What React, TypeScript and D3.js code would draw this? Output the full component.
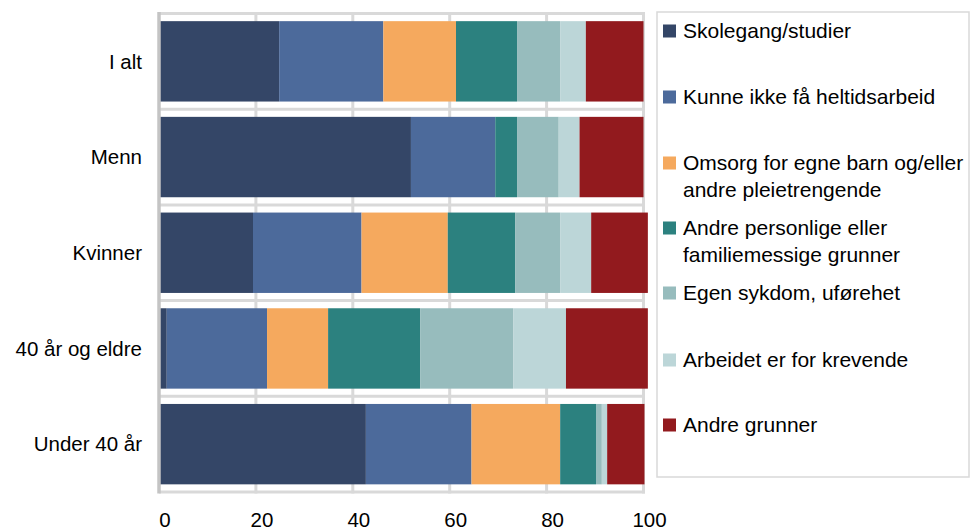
import React from "react";
import * as d3 from "d3";

const categories = ["I alt", "Menn", "Kvinner", "40 år og eldre", "Under 40 år"];
const seriesNames = [
  "Skolegang/studier",
  "Kunne ikke få heltidsarbeid",
  "Omsorg for egne barn og/eller andre pleietrengende",
  "Andre personlige eller familiemessige grunner",
  "Egen sykdom, uførehet",
  "Arbeidet er for krevende",
  "Andre grunner",
];
const legendLines = [
  ["Skolegang/studier"],
  ["Kunne ikke få heltidsarbeid"],
  ["Omsorg for egne barn og/eller", "andre pleietrengende"],
  ["Andre personlige eller", "familiemessige grunner"],
  ["Egen sykdom, uførehet"],
  ["Arbeidet er for krevende"],
  ["Andre grunner"],
];
const skolegang = [24.8, 52.0, 19.4, 1.6, 42.7];
const heltid = [21.5, 17.4, 22.4, 20.7, 21.8];
const omsorg = [15.0, 0, 17.8, 12.6, 18.3];
const personlige = [12.6, 4.5, 13.9, 19.0, 7.4];
const sykdom = [8.9, 8.6, 9.3, 19.2, 1.2];
const krevende = [5.3, 4.3, 6.4, 10.9, 1.1];
const andre = [11.9, 13.2, 11.7, 16.9, 7.7];
const seriesValues = [skolegang, heltid, omsorg, personlige, sykdom, krevende, andre];
const colors = ["#344667", "#4c6a9b", "#f5a95e", "#2c817f", "#97bcbd", "#bcd6d8", "#921a1e"];
const xTicks = [0, 20, 40, 60, 80, 100];

export default function App() {
  const width = 970;
  const height = 532;
  const x = d3.scaleLinear().domain([0, 100]).range([159, 643.5]);
  const y = d3.scaleBand().domain(categories).range([13.5, 492]).paddingInner(0.16).paddingOuter(0.08);
  const bandTop = 13.5;
  const bandLines = d3.range(categories.length + 1).map((i) => bandTop + i * ((492 - 13.5) / categories.length));

  const rows = categories.map((c, ci) => {
    let acc = 0;
    return seriesValues.map((vals, si) => {
      const x0 = acc;
      acc += vals[ci];
      return { c, si, name: seriesNames[si], x0, x1: acc };
    });
  });

  const font = "'Liberation Sans', Arial, sans-serif";
  const legendCenters = [31, 97, 163, 228, 293, 360, 425];

  return (
    <svg
      width={width}
      height={height}
      style={{ position: "absolute", left: 0, top: 0, background: "#fff" }}
      fontFamily={font}
    >
      {bandLines.map((yy, i) => (
        <line key={"h" + i} x1={159} x2={645} y1={yy} y2={yy} stroke="#d9d9d9" strokeWidth={3} />
      ))}
      {xTicks.slice(1).map((t) => (
        <line key={"v" + t} x1={x(t)} x2={x(t)} y1={12} y2={493.5} stroke="#d9d9d9" strokeWidth={3} />
      ))}
      {rows.map((segs) =>
        segs.map((s) =>
          s.x1 - s.x0 > 0 ? (
            <rect
              key={s.c + s.si}
              x={x(s.x0)}
              y={y(s.c)!}
              width={x(s.x1) - x(s.x0)}
              height={y.bandwidth()}
              fill={colors[s.si]}
            />
          ) : null
        )
      )}
      <line x1={159} x2={159} y1={12} y2={493.5} stroke="#c4c4c4" strokeWidth={3.5} />
      {categories.map((c) => (
        <text
          key={c}
          x={142}
          y={y(c)! + y.bandwidth() / 2}
          dy="0.35em"
          textAnchor="end"
          fontSize={20.5}
          fill="#000"
        >
          {c}
        </text>
      ))}
      {xTicks.map((t) => (
        <text key={"t" + t} x={x(t) + 6} y={527} textAnchor="middle" fontSize={20.5} fill="#000">
          {t}
        </text>
      ))}
      <rect x={657} y={12} width={312} height={465} fill="#fff" stroke="#d9d9d9" strokeWidth={1.5} />
      {legendLines.map((lines, i) => (
        <g key={"l" + i}>
          <rect x={663} y={legendCenters[i] - 6.5} width={13} height={13} fill={colors[i]} />
          {lines.map((ln, j) => (
            <text key={j} x={683} y={legendCenters[i] + j * 27} dy="0.35em" fontSize={21} fill="#000">
              {ln}
            </text>
          ))}
        </g>
      ))}
    </svg>
  );
}
